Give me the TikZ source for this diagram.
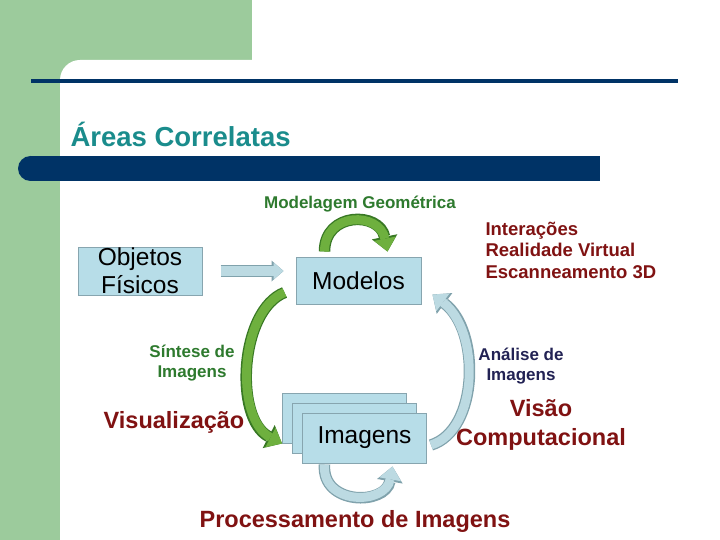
\documentclass[tikz,border=0pt]{standalone}
\usepackage{fontspec}
\setmainfont{Liberation Sans}
\usetikzlibrary{arrows.meta}

\definecolor{greenbg}{RGB}{156,203,156}
\definecolor{navy}{RGB}{0,51,102}
\definecolor{titleteal}{RGB}{26,140,140}
\definecolor{boxfill}{RGB}{183,221,232}
\definecolor{boxrim}{RGB}{135,165,175}
\definecolor{garrow}{RGB}{110,176,62}
\definecolor{grim}{RGB}{56,120,36}
\definecolor{barrow}{RGB}{188,218,226}
\definecolor{brim}{RGB}{128,162,172}
\definecolor{darkred}{RGB}{128,18,18}
\definecolor{gtext}{RGB}{46,122,46}
\definecolor{navytext}{RGB}{34,34,84}

\begin{document}
\begin{tikzpicture}[x=1pt,y=-1pt,
  box/.style={draw=boxrim,fill=boxfill,line width=1pt,minimum width=124pt,minimum height=48pt,
    inner sep=0pt,align=center,font=\fontsize{24.5}{28}\selectfont},
  lbl/.style={font=\fontsize{17}{20.5}\selectfont\bfseries,align=center},
  big/.style={font=\fontsize{23.5}{29}\selectfont\bfseries,text=darkred,align=center},
  gbody/.style={draw=garrow,line width=9pt,-{Triangle[width=22pt,length=13pt,line width=0pt]},
    preaction={draw=grim,line width=11.5pt,-{Triangle[width=26pt,length=15pt,line width=0pt]}}},
  bbody/.style={draw=barrow,line width=9pt,-{Triangle[width=22pt,length=13pt,line width=0pt]},
    preaction={draw=brim,line width=11.5pt,-{Triangle[width=26pt,length=15pt,line width=0pt]}}},
  hollow/.style={draw=barrow,line width=10pt,-{Triangle[width=17pt,length=10pt,line width=0pt]},
    preaction={draw=brim,line width=12pt,-{Triangle[width=21pt,length=12pt,line width=0pt]}}}]

\useasboundingbox (0,0) rectangle (720,540);
% slide background
\fill[white] (0,0) rectangle (720,540);
\fill[greenbg] (0,0) rectangle (252,80);
\fill[greenbg] (0,0) rectangle (60,540);
\fill[white,rounded corners=20pt] (60,60) rectangle (760,580);
\draw[navy,line width=3.5pt] (31,81) -- (678,81);
\fill[navy] (30,156) rectangle (600,181);
\fill[navy] (30.5,168.5) circle[radius=12.5];

\node[anchor=base west,text=titleteal,font=\fontsize{27.5}{30}\selectfont\bfseries] (T) at (67,147) {Áreas Correlatas};

% boxes
\node[box] (O) at (140,271) {Objetos\\Físicos};
\node[box,minimum width=125pt,minimum height=47pt] (M) at (358.5,280.5) {Modelos};
\node[box,minimum height=50pt] (I3) at (344.5,418) {};
\node[box,minimum height=50pt] (I2) at (354.5,428) {};
\node[box,minimum height=50pt] (I) at (364.5,438) {Imagens};

% arrows
\path ([xshift=18pt]O.east) edge[hollow] ([xshift=81pt]O.east);
\draw[gbody] ([shift={(29,-5)}]M.north west) .. controls +(0,-40) and +(-8,-40) .. ([shift={(92,-5)}]M.north west);
\draw[gbody] ([shift={(-11,-12)}]M.south west) .. controls +(-45,18) and +(-48,-25) .. (I3.south west);
\draw[bbody] ([shift={(4,7)}]I.east) .. controls +(48,-15) and +(48,36) .. ([shift={(11,-10)}]M.south east);
\draw[bbody] ([shift={(-40,1)}]I.south) .. controls +(-3,41) and +(-7,39) .. ([shift={(28,3)}]I.south);

% labels
\node[lbl,text=gtext] (mg) at (360,204) {Modelagem Geométrica};
\node[lbl,text=darkred,anchor=west,align=left,font=\fontsize{18.5}{21.5}\selectfont\bfseries] (apl) at (482,250) {Interações\\Realidade Virtual\\Escanneamento 3D};
\node[lbl,text=gtext] (si) at (192,363) {Síntese de\\Imagens};
\node[big] (vis) at (174,422) {Visualização};
\node[lbl,text=navytext] (ai) at (521,366) {Análise de\\Imagens};
\node[big] (vc) at (541,425) {Visão\\Computacional};
\node[big] (pi) at (355,521) {Processamento de Imagens};
\end{tikzpicture}
\end{document}
